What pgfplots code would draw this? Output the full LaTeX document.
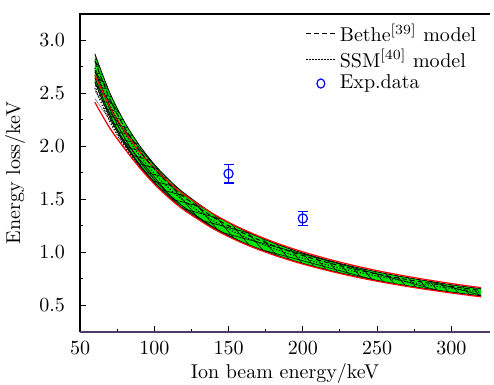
\documentclass[border=0pt]{standalone}
\usepackage{pgfplots}
\usepackage{pgfplotstable}
\pgfplotsset{compat=1.18}
\usepgfplotslibrary{fillbetween}
\usetikzlibrary{patterns,patterns.meta}
\definecolor{axpurple}{RGB}{80,60,100}
\definecolor{bandgreen}{RGB}{0,230,0}

\pgfplotstableread{
E    T     G     R1    R2    M     D
60   2.874 2.610 2.676 2.418 2.742 2.808
70   2.509 2.276 2.377 2.174 2.393 2.451
80   2.231 2.022 2.142 1.980 2.127 2.179
90   2.011 1.822 1.952 1.802 1.917 1.964
100  1.832 1.659 1.794 1.646 1.746 1.789
110  1.685 1.525 1.661 1.514 1.605 1.645
120  1.561 1.411 1.547 1.401 1.486 1.524
140  1.362 1.231 1.361 1.222 1.297 1.330
160  1.211 1.094 1.217 1.085 1.153 1.182
180  1.092 0.985 1.101 0.978 1.039 1.066
200  0.995 0.897 1.006 0.891 0.946 0.971
225  0.897 0.808 0.909 0.802 0.853 0.875
250  0.817 0.736 0.829 0.729 0.777 0.797
275  0.752 0.676 0.763 0.669 0.714 0.733
300  0.696 0.626 0.707 0.618 0.661 0.679
320  0.658 0.591 0.668 0.582 0.625 0.642
}\bands

\pgfplotstableread{
E    S     G
60   2.550 2.610
70   2.236 2.276
80   1.997 2.022
90   1.810 1.822
100  1.654 1.659
110  1.525 1.525
}\ssmlow

\pgfplotstableread{
E    L
60   2.720
70   2.357
80   2.082
90   1.866
100  1.691
110  1.548
120  1.428
140  1.237
155  1.125
}\lineA

\pgfplotstableread{
E    L
60   2.650
70   2.303
80   2.040
90   1.832
100  1.665
110  1.526
}\lineB

\begin{document}
\begin{tikzpicture}
\begin{axis}[
  name=ax,
  scale only axis, width=205pt, height=159pt,
  xmin=50, xmax=326, ymin=0.25, ymax=3.25,
  xtick={50,100,150,200,250,300},
  ytick={0.5,1,1.5,2,2.5,3},
  minor x tick num=1, minor y tick num=1,
  tick align=inside, xtick pos=bottom, ytick pos=left,
  major tick length=3pt, minor tick length=1.5pt,
  tick style={black, line width=0.5pt},
  yticklabel style={/pgf/number format/fixed, /pgf/number format/fixed zerofill, /pgf/number format/precision=1, xshift=-4pt},
  xticklabel style={yshift=-1.5pt},
  axis line style={draw=none},
  clip=false,
  xlabel={Ion beam energy/keV},
  ylabel={Energy loss/keV},
  xlabel style={at={(axis description cs:0.5,-0.13)}, anchor=center},
  ylabel style={at={(axis description cs:-0.1585,0.5)}, anchor=center},
  legend style={at={(axis description cs:0.545,0.99)}, anchor=north west, draw=none, fill=none, inner sep=1pt, row sep=-1.5pt, font=\normalsize},
  legend image post style={xscale=0.85},
  legend cell align=left,
]
% named boundary paths
\addplot[draw=none, forget plot, name path=T, smooth] table[x=E, y=T] {\bands};
\addplot[draw=none, forget plot, name path=G, smooth] table[x=E, y=G] {\bands};
\addplot[draw=none, forget plot, name path=R1, smooth] table[x=E, y=R1] {\bands};
\addplot[draw=none, forget plot, name path=R2, smooth] table[x=E, y=R2] {\bands};
\addplot[draw=none, forget plot, name path=S, smooth] table[x=E, y=S] {\ssmlow};
\addplot[draw=none, forget plot, name path=Gs, smooth] table[x=E, y=G] {\ssmlow};

% grey hatched SSM band
\addplot[pattern={Lines[angle=-55,distance=2.2pt,line width=0.35pt]}, pattern color=gray, forget plot] fill between[of=R1 and R2];
% black hatched strip under the green band
\addplot[pattern={Lines[angle=45,distance=1.6pt,line width=0.35pt]}, pattern color=black, forget plot] fill between[of=S and Gs];
% green band
\addplot[fill=bandgreen, forget plot] fill between[of=T and G];
\addplot[pattern={Lines[angle=-15,distance=3.2pt,line width=0.3pt]}, pattern color=black, forget plot] fill between[of=T and G];
\addplot[pattern={Lines[angle=-50,distance=3.6pt,line width=0.3pt]}, pattern color=black, forget plot] fill between[of=T and G];

% thin black curves
\addplot[black, line width=0.4pt, smooth, forget plot] table[x=E, y=T] {\bands};
\addplot[black, line width=0.4pt, smooth, forget plot] table[x=E, y=G] {\bands};
\addplot[black, line width=0.4pt, smooth, forget plot] table[x=E, y=L] {\lineA};
\addplot[black, line width=0.4pt, smooth, forget plot] table[x=E, y=L] {\lineB};
\addplot[black, line width=0.5pt, dash pattern=on 0.6pt off 0.9pt, smooth, forget plot] table[x=E, y=S] {\ssmlow};

% red curves
\addplot[red, line width=0.6pt, smooth, forget plot] table[x=E, y=R1] {\bands};
\addplot[red, line width=0.6pt, smooth, forget plot] table[x=E, y=R2] {\bands};

% legend curves
\addplot[black, line width=0.5pt, dash pattern=on 2.5pt off 1.5pt, smooth] table[x=E, y=D] {\bands};
\addlegendentry{Bethe\textsuperscript{[39]} model}
\addplot[black, line width=0.5pt, dash pattern=on 0.6pt off 0.9pt, smooth] table[x=E, y=M] {\bands};
\addlegendentry{SSM\textsuperscript{[40]} model}

% experimental data
\addplot[blue, only marks, mark=o, mark size=2.3pt, mark options={fill=white, line width=0.6pt},
  error bars/.cd, y dir=both, y explicit,
  error bar style={blue, line width=0.6pt},
  error mark options={blue, rotate=90, mark size=2.5pt, line width=0.6pt}]
  coordinates {(150,1.743) +- (0,0.088) (200,1.321) +- (0,0.066)};
\addlegendentry{Exp.data}

% frame: top, left, bottom (no right spine)
\draw[line width=0.6pt] (rel axis cs:1,1) -- (rel axis cs:0,1) -- (rel axis cs:0,0);
\draw[line width=0.6pt, axpurple] (rel axis cs:0,0) -- (rel axis cs:1,0);
\end{axis}
\pgfresetboundingbox
\path ([shift={(-40pt,-26.5pt)}]ax.south west) rectangle ([shift={(2pt,7pt)}]ax.north east);
\end{tikzpicture}
\end{document}
